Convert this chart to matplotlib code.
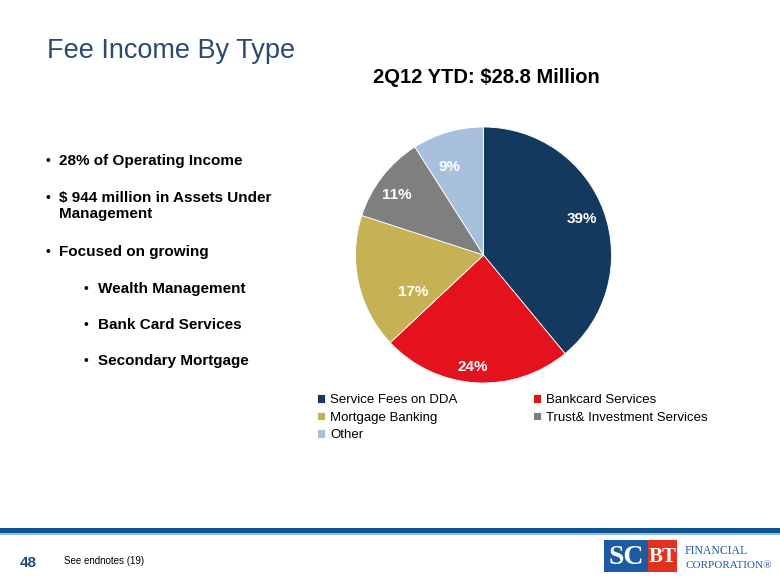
import matplotlib
matplotlib.use("Agg")
import matplotlib.pyplot as plt
from matplotlib.patches import Rectangle
import numpy as np

# data
categories = ["Service Fees on DDA", "Bankcard Services", "Mortgage Banking",
              "Trust& Investment Services", "Other"]
shares = [39, 24, 17, 11, 9]
colors = ["#133a5e", "#e3121d", "#c7b155", "#7f7f7f", "#a8c0db"]
bullets = ["28% of Operating Income",
           "$ 944 million in Assets Under\nManagement",
           "Focused on growing"]
sub_bullets = ["Wealth Management", "Bank Card Services", "Secondary Mortgage"]

# label placement (PowerPoint "best fit" look): radius fraction, angle shift in deg
label_dist = [0.82, 0.88, 0.62, 0.82, 0.74]
label_shift = [0, -2, 15, 3, 5]

plt.rcParams["font.family"] = ["Liberation Sans", "DejaVu Sans"]

W, H = 780, 585
fig = plt.figure(figsize=(W / 100, H / 100), dpi=100)

# background axes in pixel coords (y down)
bg = fig.add_axes([0, 0, 1, 1])
bg.set_xlim(0, W)
bg.set_ylim(H, 0)
bg.axis("off")

bg.text(47, 58, "Fee Income By Type", fontsize=19.5, color="#2c4a70",
        va="baseline", ha="left")
bg.text(486, 83, "2Q12 YTD: $28.8 Million", fontsize=14.5, fontweight="bold",
        va="baseline", ha="center")

for y, b in zip([161, 198, 252], bullets):
    bg.text(46, y, "\u2022", fontsize=10, va="center", ha="left")
    bg.text(59, y - 7, b, fontsize=11, fontweight="bold", va="top",
            ha="left", linespacing=1.15)
for y, b in zip([289, 325, 361], sub_bullets):
    bg.text(84, y, "\u2022", fontsize=10, va="center", ha="left")
    bg.text(98, y, b, fontsize=11, fontweight="bold", va="center", ha="left")

# footer
bg.add_patch(Rectangle((0, 528), W, 4.5, color="#0d5696", lw=0))
bg.add_patch(Rectangle((0, 533), W, 1.5, color="#9dbbd8", lw=0))
bg.text(20, 563, "48", fontsize=11, fontweight="bold", color="#1f4e79",
        va="center", ha="left")
bg.text(64, 561, "See endnotes (19)", fontsize=7, va="center", ha="left")

# logo
bg.add_patch(Rectangle((604, 540), 44, 32, color="#1c5aa6", lw=0))
bg.add_patch(Rectangle((648, 540), 29, 32, color="#e2311f", lw=0))
bg.text(626, 557, "SC", fontsize=20, fontweight="bold", color="white",
        ha="center", va="center", family="Liberation Serif")
bg.text(662.5, 557, "BT", fontsize=15, fontweight="bold", color="white",
        ha="center", va="center", family="Liberation Serif")
bg.text(685, 554, "FINANCIAL", fontsize=8.5, color="#1c5aa6", ha="left",
        va="baseline", family="Liberation Serif")
bg.text(685, 568, "CORPORATION\u00ae", fontsize=8, color="#1c5aa6", ha="left",
        va="baseline", family="Liberation Serif")

# pie
cx, cy, r = 483.5, 255, 128
ax = fig.add_axes([(cx - r) / W, 1 - (cy + r) / H, 2 * r / W, 2 * r / H])
wedges, _, autotexts = ax.pie(shares, colors=colors, startangle=90, counterclock=False,
                              radius=1, autopct="%d%%", pctdistance=0.8,
                              wedgeprops=dict(edgecolor="white", linewidth=0.6),
                              textprops=dict(color="white", fontsize=11,
                                             fontweight="bold"))
for w, t, d, s in zip(wedges, autotexts, label_dist, label_shift):
    mid = np.deg2rad((w.theta1 + w.theta2) / 2 + s)
    t.set_position((d * np.cos(mid), d * np.sin(mid)))
ax.set_xlim(-1, 1)
ax.set_ylim(-1, 1)
ax.set_aspect("equal")

order = [0, 2, 4, 1, 3]
fig.legend([wedges[i] for i in order], [categories[i] for i in order], ncol=2,
           loc="upper left", bbox_to_anchor=(317 / W, 1 - 394 / H), frameon=False,
           fontsize=9.5, handlelength=0.6, handleheight=0.6, handletextpad=0.4,
           labelspacing=0.42, columnspacing=5.7, borderpad=0, borderaxespad=0)

fig.savefig("out.png", dpi=100)
